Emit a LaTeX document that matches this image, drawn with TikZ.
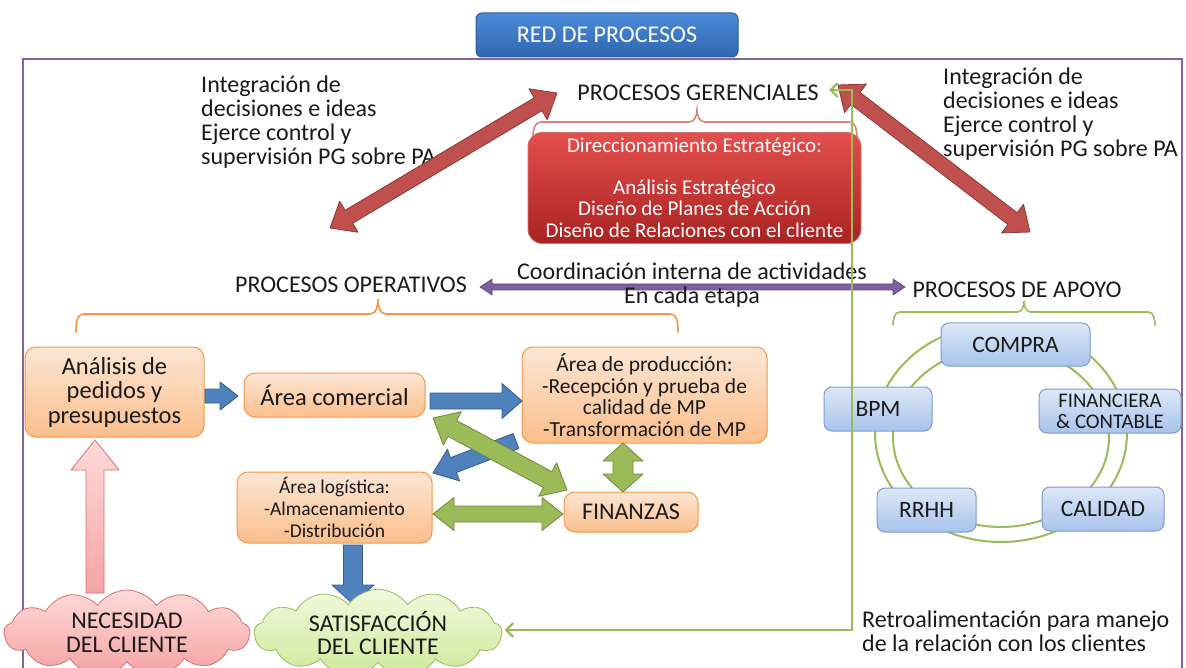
\documentclass[tikz,border=0pt]{standalone}
\usepackage{fontspec}
\setmainfont{Carlito}
\usetikzlibrary{shapes.symbols,calc,arrows.meta}

\definecolor{framec}{HTML}{8064A2}
\definecolor{txt}{HTML}{1A1A1A}
\definecolor{orgB}{HTML}{F79646}
\definecolor{orgT}{HTML}{FDE6D4}
\definecolor{orgD}{HTML}{FBBF8C}
\definecolor{redT}{HTML}{E34F4C}
\definecolor{redD}{HTML}{A92321}
\definecolor{redA}{HTML}{C0504D}
\definecolor{redAB}{HTML}{8C3836}
\definecolor{bluA}{HTML}{4F81BD}
\definecolor{bluAB}{HTML}{385D8A}
\definecolor{grnA}{HTML}{9BBB59}
\definecolor{grnAB}{HTML}{71893F}
\definecolor{purA}{HTML}{7F5FA0}
\definecolor{purAB}{HTML}{5C4476}
\definecolor{lbT}{HTML}{DDE8F8}
\definecolor{lbD}{HTML}{A8C3EB}
\definecolor{lbB}{HTML}{7A9DCB}
\definecolor{pinkT}{HTML}{FFDADA}
\definecolor{pinkD}{HTML}{F5A3A3}
\definecolor{pinkB}{HTML}{D9706F}
\definecolor{limeT}{HTML}{F2F9DE}
\definecolor{limeD}{HTML}{CDE99A}
\definecolor{titT}{HTML}{4B8BD9}
\definecolor{titD}{HTML}{2F66B0}
\definecolor{titB}{HTML}{2C5C9C}

\newcommand\fsHead{\fontsize{24}{23.8}\selectfont}
\newcommand\fsBox{\fontsize{24.5}{24.5}\selectfont}
\newcommand\fsSmall{\fontsize{21.5}{21.5}\selectfont}
\newcommand\fsRed{\fontsize{21}{21.7}\selectfont}
\newcommand\fsSup{\fontsize{23.5}{22}\selectfont}
\newcommand\fsSupS{\fontsize{20.8}{21}\selectfont}

% double-headed block arrow: style, from, to, shaft half width, head half width, head length
\newcommand\fatdbl[6]{%
  \coordinate (fa1) at ($(#2)!#6!(#3)$);
  \coordinate (fa2) at ($(#3)!#6!(#2)$);
  \draw[#1] (#2) -- ($(fa1)!#5!90:(#3)$) -- ($(fa1)!#4!90:(#3)$)
    -- ($(fa2)!#4!-90:(#2)$) -- ($(fa2)!#5!-90:(#2)$) -- (#3)
    -- ($(fa2)!#5!90:(#2)$) -- ($(fa2)!#4!90:(#2)$)
    -- ($(fa1)!#4!-90:(#3)$) -- ($(fa1)!#5!-90:(#3)$) -- cycle;}
% single-headed block arrow
\newcommand\fatone[6]{%
  \coordinate (fa2) at ($(#3)!#6!(#2)$);
  \draw[#1] ($(#2)!#4!90:(#3)$) -- ($(fa2)!#4!-90:(#2)$)
    -- ($(fa2)!#5!-90:(#2)$) -- (#3) -- ($(fa2)!#5!90:(#2)$)
    -- ($(fa2)!#4!90:(#2)$) -- ($(#2)!#4!-90:(#3)$) -- cycle;}

\begin{document}
\begin{tikzpicture}[x=1pt,y=-1pt,
  every node/.style={text=txt, inner sep=0pt},
  label/.style={font=\fsHead, align=left},
  opbox/.style={draw=orgB, line width=1pt, rounded corners=11pt,
    top color=orgT, bottom color=orgD, align=center},
  supbox/.style={draw=lbB, line width=1pt, rounded corners=8pt,
    top color=lbT, bottom color=lbD, align=center},
  redarrow/.style={fill=redA, draw=redAB, line width=0.8pt, line join=round},
  bluarrow/.style={fill=bluA, draw=bluAB, line width=0.8pt, line join=round},
  grnarrow/.style={fill=grnA, draw=grnAB, line width=0.8pt, line join=round},
  purarrow/.style={fill=purA, draw=purAB, line width=0.6pt, line join=round},
  pinkarrow/.style={top color=pinkT, bottom color=pinkD, draw=pinkB, line width=0.8pt, line join=round},
  bracec/.style={line width=1.6pt, line cap=round},
  feedback/.style={draw=grnA, line width=2.6pt},
]
\useasboundingbox (0,0) rectangle (1186,668);

% outer frame
\draw[framec, line width=1.6pt] (23,668) -- (23,59) -- (1182,59) -- (1182,668);

% title
\node[draw=titB, line width=1pt, rounded corners=6pt, top color=titT, bottom color=titD,
  minimum width=262pt, minimum height=44pt, text=white, font=\fsHead] (title) at (607,35) {RED DE PROCESOS};

% management processes
\node[font=\fsHead] (pg) at (698,93) {PROCESOS GERENCIALES};
\draw[bracec, redA!70] (533,137) to[out=90,in=180] (541,122) -- (689,122)
  to[out=0,in=-90] (697,110) to[out=-90,in=180] (705,122) -- (849,122) to[out=0,in=90] (857,137);
\node[draw=redA!80, line width=0.8pt, rounded corners=14pt, top color=redT, bottom color=redD,
  minimum width=333pt, minimum height=111pt, text=white, font=\fsRed, align=center] (dir) at (694.5,188)
  {Direccionamiento Estratégico:\\[20pt]Análisis Estratégico\\Diseño de Planes de Acción\\Diseño de Relaciones con el cliente};

\node[label, anchor=west] (intL) at (201,122) {Integración de\\decisiones e ideas\\Ejerce control y\\supervisión PG sobre PA};
\node[label, anchor=west] (intR) at (943,114) {Integración de\\decisiones e ideas\\Ejerce control y\\supervisión PG sobre PA};

\coordinate (rlA) at (330,228);
\coordinate (rlB) at (557,93);
\coordinate (rrA) at (838,85);
\coordinate (rrB) at (1030,232);
\fatdbl{redarrow}{rlA}{rlB}{7.5pt}{18pt}{22pt}
\fatdbl{redarrow}{rrA}{rrB}{7.5pt}{18pt}{22pt}

% operative and support headers
\node[font=\fsHead] (po) at (351,285) {PROCESOS OPERATIVOS};
\node[font=\fsHead] (pa) at (1017,290) {PROCESOS DE APOYO};
\coordinate (pcA) at (480,287);
\coordinate (pcB) at (905,287);
\fatdbl{purarrow}{pcA}{pcB}{3pt}{8pt}{12pt}
\node[font=\fsHead, align=center] (coord) at (692,285.5) {Coordinación interna de actividades\\En cada etapa};

\draw[bracec, orgB] (76,332) to[out=90,in=180] (84,314) -- (370,314)
  to[out=0,in=-90] (378,299) to[out=-90,in=180] (386,314) -- (670,314) to[out=0,in=90] (678,332);
\draw[bracec, grnA] (893,325) to[out=90,in=180] (900,312) -- (1017,312)
  to[out=0,in=-90] (1024,301) to[out=-90,in=180] (1031,312) -- (1148,312) to[out=0,in=90] (1155,325);

% operative process boxes
\node[opbox, minimum width=179pt, minimum height=90pt, font=\fsBox] (ana) at (114.5,392) {Análisis de\\pedidos y\\presupuestos};
\node[opbox, minimum width=181pt, minimum height=44pt, font=\fsBox] (com) at (334.5,395) {Área comercial};
\node[opbox, minimum width=245pt, minimum height=96pt, font=\fsSmall] (prod) at (644.5,395)
  {Área de producción:\\-Recepción y prueba de\\calidad de MP\\-Transformación de MP};
\node[opbox, minimum width=134pt, minimum height=40pt, font=\fsHead] (fin) at (631,512) {FINANZAS};
\node[opbox, minimum width=195pt, minimum height=71pt, font=\fontsize{19.5}{22}\selectfont] (log) at (334.5,507.5)
  {Área logística:\\-Almacenamiento\\-Distribución};

% flows between operative boxes
\coordinate (b1A) at (205,396);
\coordinate (b1B) at (238,396);
\fatone{bluarrow}{b1A}{b1B}{7pt}{14pt}{18pt}
\coordinate (b2A) at (430,401);
\coordinate (b2B) at (522,401);
\fatone{bluarrow}{b2A}{b2B}{8pt}{17.5pt}{20pt}
\coordinate (b3A) at (516,441);
\coordinate (b3B) at (433,473);
\fatone{bluarrow}{b3A}{b3B}{8pt}{17pt}{22pt}
\coordinate (b4A) at (353,545);
\coordinate (b4B) at (353,604);
\fatone{bluarrow}{b4A}{b4B}{9.5pt}{21pt}{19pt}

\coordinate (g1A) at (433,418);
\coordinate (g1B) at (567,490);
\fatdbl{grnarrow}{g1A}{g1B}{9pt}{19pt}{22pt}
\coordinate (g2A) at (623,443);
\coordinate (g2B) at (623,492);
\fatdbl{grnarrow}{g2A}{g2B}{10pt}{20pt}{18pt}
\coordinate (g3A) at (433,514);
\coordinate (g3B) at (563,514);
\fatdbl{grnarrow}{g3A}{g3B}{8pt}{16.5pt}{21pt}

% customer clouds
\node[cloud, cloud puffs=13, cloud puff arc=110, aspect=3, draw=pinkB, line width=0.8pt,
  top color=pinkT, bottom color=pinkD, minimum width=246pt, minimum height=86pt,
  font=\fsHead, align=center] (nec) at (127,633) {NECESIDAD\\DEL CLIENTE};
\node[cloud, cloud puffs=13, cloud puff arc=110, aspect=3, draw=grnA, line width=0.8pt,
  top color=limeT, bottom color=limeD, minimum width=248pt, minimum height=86pt,
  font=\fsHead, align=center] (sat) at (378,633) {SATISFACCIÓN\\DEL CLIENTE};

\coordinate (pkA) at (95,593);
\coordinate (pkB) at (95,440);
\fatone{pinkarrow}{pkA}{pkB}{9pt}{24pt}{30pt}

% support processes ring
\draw[grnA, line width=2pt] (1001,433) ellipse[x radius=126pt, y radius=109pt];
\draw[grnA, line width=2pt] (1001,437) ellipse[x radius=108pt, y radius=90pt];
\node[supbox, minimum width=149pt, minimum height=43pt, font=\fsSup] (compra) at (1015.5,344.5) {COMPRA};
\node[supbox, minimum width=108pt, minimum height=44pt, font=\fsSup] (bpm) at (878,409) {BPM};
\node[supbox, minimum width=142pt, minimum height=44pt, font=\fsSupS] (fincon) at (1110,411) {FINANCIERA\\\& CONTABLE};
\node[supbox, minimum width=99pt, minimum height=44pt, font=\fsSup] (rrhh) at (926.5,510) {RRHH};
\node[supbox, minimum width=122pt, minimum height=44pt, font=\fsSup] (cal) at (1103,509) {CALIDAD};

% feedback loop
\node[label, anchor=west] (retro) at (862,631) {Retroalimentación para manejo\\de la relación con los clientes};
\coordinate (fbx) at (852,0);
\coordinate (fbtop) at (829,90);
\draw[feedback, {Straight Barb[length=7pt,width=14pt,line width=2.4pt]}-{Straight Barb[length=7pt,width=14pt,line width=2.4pt]}]
  ($(sat.east)+(2,-3)$) -| (fbx |- fbtop) -- (fbtop);
\end{tikzpicture}
\end{document}
